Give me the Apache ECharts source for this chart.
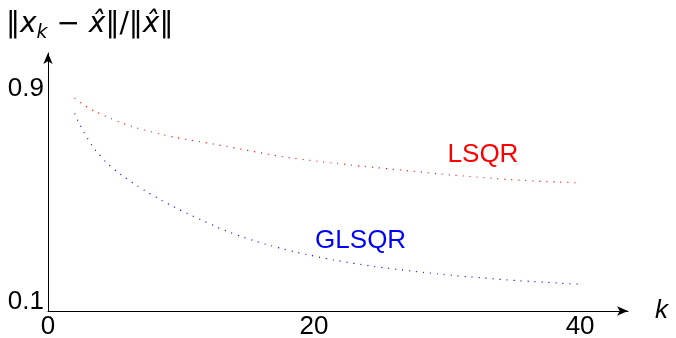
<!DOCTYPE html>
<html><head><meta charset="utf-8">
<script src="https://cdn.jsdelivr.net/npm/echarts@6/dist/echarts.min.js"></script>
<style>html,body{margin:0;padding:0;background:#fff}#c{width:676px;height:338px}</style>
</head><body><div id="c"></div>
<script>
const iterations = [2,3,4,5,6,7,8,9,10,11,12,13,14,15,16,17,18,19,20,21,22,23,24,25,26,27,28,29,30,31,32,33,34,35,36,37,38,39,40];
const lsqr = [0.865,0.830,0.805,0.783,0.764,0.749,0.736,0.724,0.714,0.705,0.697,0.688,0.679,0.669,0.660,0.651,0.643,0.636,0.630,0.624,0.619,0.613,0.608,0.603,0.598,0.593,0.588,0.583,0.578,0.574,0.570,0.566,0.562,0.559,0.556,0.553,0.551,0.549,0.547];
const glsqr = [0.808,0.712,0.645,0.597,0.560,0.527,0.497,0.469,0.444,0.420,0.397,0.375,0.355,0.338,0.322,0.308,0.295,0.283,0.272,0.262,0.253,0.245,0.237,0.230,0.224,0.218,0.212,0.207,0.202,0.197,0.193,0.189,0.185,0.181,0.178,0.175,0.172,0.169,0.167];
const xTicks = [0,20,40];
const yTicks = [0.1,0.9];
const seriesNames = ['LSQR','GLSQR'];
const labelAnchors = [[32.7,0.654],[23.5,0.330]];

const FONT = 'Liberation Sans';
const MFONT = 'DejaVu Sans';
const chart = echarts.init(document.getElementById('c'), null, {renderer:'canvas'});
const axisLine = {show:true, symbol:['none','arrow'], symbolSize:[7,11], lineStyle:{color:'#000', width:1}};
chart.setOption({
  animation:false,
  grid:{left:48, top:53, width:580, height:258, containLabel:false, outerBoundsMode:'none'},
  xAxis:{type:'value', min:0, max:43.6, axisLine, axisTick:{show:false}, splitLine:{show:false},
    axisLabel:{customValues:xTicks, color:'#000', fontFamily:FONT, fontSize:26, margin:3},
    name:'k', nameLocation:'end', nameGap:27,
    nameTextStyle:{fontFamily:FONT, fontStyle:'italic', fontSize:26, color:'#000', verticalAlign:'middle', padding:[12,0,0,0]}},
  yAxis:{type:'value', min:0.066, max:1.035, axisLine, axisTick:{show:false}, splitLine:{show:false},
    axisLabel:{customValues:yTicks, color:'#000', fontFamily:FONT, fontSize:26, margin:4}},
  series:[
    {name:seriesNames[0], type:'line', data:iterations.map((k,i)=>[k,lsqr[i]]), showSymbol:false, smooth:true,
     lineStyle:{color:'#ff0000', width:1.2, type:[1,6]}},
    {name:seriesNames[1], type:'line', data:iterations.map((k,i)=>[k,glsqr[i]]), showSymbol:false, smooth:true,
     lineStyle:{color:'#0000ff', width:1.2, type:[1,6]}}
  ]
});
const colors = ['#ff0000','#0000ff'];
const graphics = labelAnchors.map((a,i)=>{
  const p = chart.convertToPixel({gridIndex:0}, a);
  return {type:'text', x:p[0], y:p[1], style:{text:seriesNames[i], fill:colors[i], font:'26px "'+FONT+'"', align:'center', verticalAlign:'middle'}};
});
graphics.push({type:'text', x:6, y:25, style:{
  text:'{n|‖}{i|x}{s|k}{n| − }{i|x̂}{n|‖/‖}{i|x̂}{n|‖}',
  verticalAlign:'middle', align:'left',
  rich:{
    n:{fontFamily:MFONT, fontSize:28, fill:'#000'},
    i:{fontFamily:MFONT, fontSize:28, fontStyle:'italic', fill:'#000'},
    s:{fontFamily:MFONT, fontSize:19, fontStyle:'italic', fill:'#000', verticalAlign:'bottom', padding:[16,0,0,0]}
  }}});
chart.setOption({graphic:graphics});
</script></body></html>
